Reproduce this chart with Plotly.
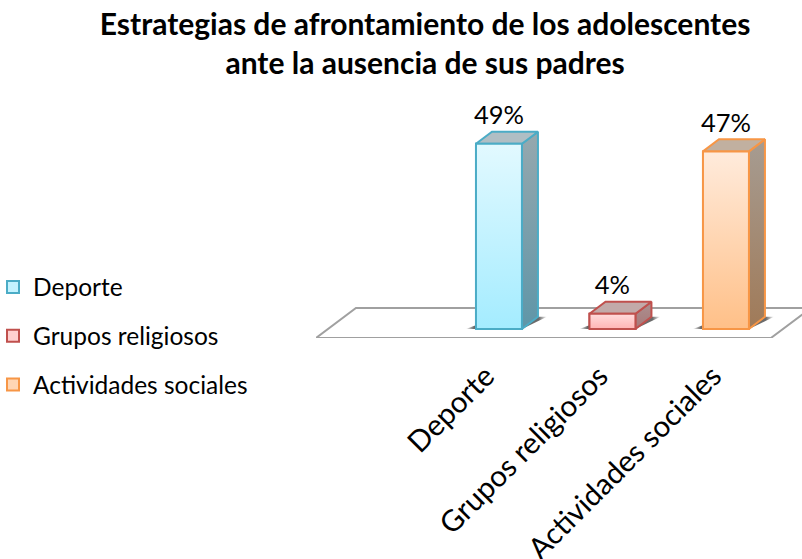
import plotly.graph_objects as go

categorias = ["Deporte", "Grupos religiosos", "Actividades sociales"]
porcentajes = [49, 4, 47]
etiquetas = ["49%", "4%", "47%"]

colores_borde = ["#4bacc6", "#c0504d", "#f79646"]
colores_leyenda = ["#c4f3ff", "#ffd0d0", "#ffd6b4"]
frente_arriba = ["#e2f9ff", "#ffdcdc", "#ffebdc"]
frente_abajo = ["#a4ecff", "#ffb4b4", "#ffc088"]
lado_arriba = ["#96a8ae", "#ab9090", "#a69c92"]
lado_abajo = ["#5f96a8", "#a87878", "#a07a58"]
tapa = ["#b0bec4", "#c2aaa9", "#c1b0a0"]

FONT = "Lato"
ANCHO_BARRA = 0.405
PROF_X = 0.141  # profundidad de la barra, en unidades de categoria
PROF_Y = 3.2    # profundidad de la barra, en puntos de porcentaje


def cara(xs, ys, color_a, color_b, borde):
    return go.Scatter(
        x=xs + xs[:1],
        y=ys + ys[:1],
        mode="lines",
        line=dict(color=borde, width=2),
        fill="toself",
        fillgradient=dict(type="vertical", colorscale=[[0, color_b], [1, color_a]]),
        showlegend=False,
        hoverinfo="skip",
    )


fig = go.Figure()

# barras reales: dan la leyenda, las caras 3D van encima
for i, cat in enumerate(categorias):
    fig.add_trace(
        go.Bar(
            x=[i],
            y=[porcentajes[i]],
            width=ANCHO_BARRA,
            name=cat,
            legendgroup=cat,
            marker=dict(color=colores_leyenda[i], line=dict(color=colores_borde[i], width=2)),
        )
    )

# sombras sobre el piso
for i in range(len(categorias)):
    izq = i - ANCHO_BARRA / 2
    der = i + ANCHO_BARRA / 2
    fig.add_trace(
        go.Scatter(
            x=[izq - 0.09, der, der + PROF_X + 0.08, izq + 0.2, izq - 0.09],
            y=[0, 0, PROF_Y, PROF_Y, 0],
            mode="lines",
            line=dict(width=0, color="rgba(0,0,0,0)"),
            fill="toself",
            fillgradient=dict(
                type="horizontal",
                colorscale=[
                    [0, "rgba(90,90,90,0)"],
                    [0.1, "rgba(90,90,90,0.9)"],
                    [0.9, "rgba(90,90,90,0.9)"],
                    [1, "rgba(90,90,90,0)"],
                ],
            ),
            showlegend=False,
            hoverinfo="skip",
        )
    )

for i, valor in enumerate(porcentajes):
    izq = i - ANCHO_BARRA / 2
    der = i + ANCHO_BARRA / 2
    fig.add_trace(
        cara(
            [der, der + PROF_X, der + PROF_X, der],
            [0, PROF_Y, valor + PROF_Y, valor],
            lado_arriba[i], lado_abajo[i], colores_borde[i],
        )
    )
    fig.add_trace(
        cara(
            [izq, der, der + PROF_X, izq + PROF_X],
            [valor, valor, valor + PROF_Y, valor + PROF_Y],
            tapa[i], tapa[i], colores_borde[i],
        )
    )
    fig.add_trace(
        cara(
            [izq, der, der, izq],
            [0, 0, valor, valor],
            frente_arriba[i], frente_abajo[i], colores_borde[i],
        )
    )

fig.add_trace(
    go.Scatter(
        x=[0, 1, 2],
        y=[v + 3.5 for v in porcentajes],
        mode="text",
        text=etiquetas,
        textposition="top center",
        textfont=dict(family=FONT, size=25.5, color="#000000"),
        showlegend=False,
        hoverinfo="skip",
    )
)

# piso del grafico
fig.add_shape(
    type="path",
    path="M -1.612,-2.4 L 2.396,-2.4 L 2.75,5.56 L -1.26,5.56 Z",
    line=dict(color="#a0a0a0", width=2),
    fillcolor="white",
    layer="below",
)

fig.update_layout(
    width=802,
    height=559,
    margin=dict(l=316, r=0, t=100, b=221),
    paper_bgcolor="white",
    plot_bgcolor="white",
    barmode="overlay",
    title=dict(
        text="Estrategias de afrontamiento de los adolescentes<br>ante la ausencia de sus padres",
        x=0.53,
        xanchor="center",
        y=0.938,
        yanchor="top",
        font=dict(family=FONT, size=30, color="#000000", weight="bold"),
    ),
    legend=dict(
        xref="container",
        yref="container",
        x=0,
        xanchor="left",
        y=0.399,
        yanchor="middle",
        tracegroupgap=14,
        indentation=-7,
        font=dict(family=FONT, size=24.5, color="#000000"),
        bgcolor="rgba(0,0,0,0)",
    ),
    font=dict(family=FONT),
)
fig.update_xaxes(
    range=[-1.612, 2.67],
    tickvals=[0, 1, 2],
    ticktext=categorias,
    tickangle=-45,
    tickfont=dict(family=FONT, size=29.5, color="#000000"),
    showgrid=False,
    zeroline=False,
    showline=False,
    ticks="",
    ticklabelstandoff=14,
    ticklabelshift=-13,
    automargin=False,
)
fig.update_yaxes(
    range=[-2.4, 60.6],
    showgrid=False,
    zeroline=False,
    showline=False,
    showticklabels=False,
    automargin=False,
)

fig.write_html(
    "out.html",
    config={"displayModeBar": False},
    post_script="document.body.style.margin='0';",
)
